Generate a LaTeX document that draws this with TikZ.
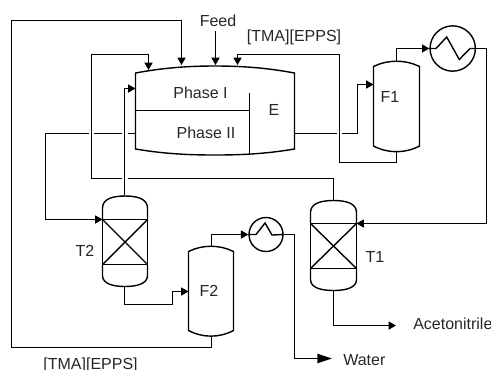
\documentclass[tikz,border=0pt]{standalone}
\usepackage{fontspec}
\setmainfont{Liberation Sans}
\usetikzlibrary{arrows.meta}
\tikzset{
  pipe/.style={line width=1.05pt,line join=miter},
  flow/.style={pipe,-{Triangle[length=5.5pt,width=6pt]}},
  bigflow/.style={pipe,-{Triangle[length=11pt,width=7pt]}},
  vessel/.style={line width=1.05pt},
  lbl/.style={font=\fontsize{12pt}{14pt}\selectfont,inner sep=0pt,text=black!85},
}
\begin{document}
\begin{tikzpicture}[x=0.75pt,y=-0.75pt]
\useasboundingbox (0,0) rectangle (491,369);
\clip (0,0) rectangle (491,369);
% Extractor
\draw[vessel] (135.5,73) .. controls (165,67.5) and (190,66) .. (215,66) .. controls (240,66) and (265,67.5) .. (294.5,73)
  -- (294.5,149) .. controls (265,154) and (240,155) .. (215,155) .. controls (190,155) and (165,154) .. (135.5,149) -- cycle;
\draw[vessel] (135.5,110.5) -- (249.5,110.5);
\draw[vessel] (249.5,93) -- (249.5,154.5);
% Flash drums
\newcommand{\flashdrum}[4]{% left right topmid bottommid
  \draw[vessel] (#1,#3+5.5) .. controls (#1+14,#3-1.5) and (#2-14,#3-1.5) .. (#2,#3+5.5)
   -- (#2,#4-6) .. controls (#2-14,#4+1.5) and (#1+14,#4+1.5) .. (#1,#4-6) -- cycle;}
\flashdrum{373.5}{419.5}{61}{152}
\flashdrum{188.5}{233.5}{246}{336.5}
% Columns
\newcommand{\packedcol}[5]{% left right top line1 line2 (bottom = line2+22)
  \draw[vessel] (#1,#4) -- (#1,#3+12) .. controls (#1,#3+3) and (#1+10,#3) .. ({(#1+#2)/2},#3)
     .. controls (#2-10,#3) and (#2,#3+3) .. (#2,#3+12) -- (#2,#4);
  \draw[vessel] (#1,#5) -- (#1,#5+11) .. controls (#1,#5+19) and (#1+10,#5+22) .. ({(#1+#2)/2},#5+22)
     .. controls (#2-10,#5+22) and (#2,#5+19) .. (#2,#5+11) -- (#2,#5);
  \draw[vessel] (#1,#4) rectangle (#2,#5);
  \draw[vessel] (#1,#4) -- (#2,#5) (#1,#5) -- (#2,#4);}
\packedcol{102.5}{147.5}{196}{219.5}{264.5}
\packedcol{310.5}{356.5}{200.5}{223.5}{268.5}
% Exchangers
\node[circle,draw,line width=1.05pt,minimum size=34pt,inner sep=0pt] (HA) at (452.7,48.5) {};
\node[circle,draw,line width=1.05pt,minimum size=25.5pt,inner sep=0pt] (HB) at (266,234.5) {};
\draw[pipe] (HA.west) -- (436,48.5) -- (446.7,37) -- (459.3,59.5) -- (470,48.5) -- (HA.east);
\draw[pipe] (HB.west) -- (256,234.5) -- (265,223) -- (272,235) -- (HB.east);
% Ports
\coordinate (Ein) at (181.5,65);
\coordinate (Efeed) at (215.5,65);
\coordinate (Esolv) at (237.5,65);
\coordinate (Erec) at (148.5,70);
\coordinate (Et2) at (135.5,88.5);
\coordinate (Eout) at (294.5,133.5);
\coordinate (Eraf) at (135.5,133.5);
\coordinate (Fa) at (373.5,84.5);
\coordinate (Fat) at (396.5,61);
\coordinate (Fab) at (396.5,152);
\coordinate (Fb) at (188.5,291.5);
\coordinate (Fbt) at (211.5,246);
\coordinate (Fbb) at (211.5,336.5);
\coordinate (Tat) at (333.5,200.5);
\coordinate (Tab) at (333.5,291);
\coordinate (Tain) at (356.5,223.5);
\coordinate (Tbt) at (124.5,196);
\coordinate (Tbb) at (124.5,286);
\coordinate (Tbin) at (102.5,219.5);
\coordinate (Feedtop) at (215.5,31);
\coordinate (Aend) at (396,325.5);
\coordinate (Wend) at (332,358.5);
% Connectors
\draw[flow] (Fbb) |- (11.5,347.5) |- (181.5,20.5) -- (Ein);
\draw[flow] (Feedtop) -- (Efeed);
\draw[flow] (Fab) |- (339.5,162.5) |- (237.5,54.5) -- (Esolv);
\draw[pipe] (Tat) |- (127.5,178.5);
\draw[flow] (122,178.5) -| (91.5,54.5) -| (Erec);
\draw[flow] (Tbt) |- (Et2);
\draw[pipe] (Eout) -- (337,133.5);
\draw[flow] (342,133.5) -| (357.5,84.5) -- (Fa);
\draw[pipe] (Eraf) -- (127.5,133.5);
\draw[pipe] (122,133.5) -- (93.5,133.5);
\draw[flow] (88.5,133.5) -| (45.5,219.5) -- (Tbin);
\draw[flow] (Fat) |- (HA.west);
\draw[flow] (HA.east) -| (486.5,223.5) -- (Tain);
\draw[flow] (Tbb) |- (172.5,304.5) |- (Fb);
\draw[flow] (Fbt) |- (HB.west);
\draw[bigflow] (HB.east) -| (294.5,358.5) -- (Wend);
\draw[flow] (Tab) |- (Aend);
% Labels
\node[lbl] (feed) at (218,20.5) {Feed};
\node[lbl] (s1) at (294,37) {[TMA][EPPS]};
\node[lbl] (s2) at (90.5,365) {[TMA][EPPS]};
\node[lbl] (p1) at (200.5,92.5) {Phase I};
\node[lbl] (p2) at (206,132.5) {Phase II};
\node[lbl] (e) at (274,110) {E};
\node[lbl] (f1) at (390,96.5) {F1};
\node[lbl] (f2) at (209,290.5) {F2};
\node[lbl] (t1) at (375,256.5) {T1};
\node[lbl] (t2) at (85,251) {T2};
\node[lbl,anchor=west] (ac) at (413,324) {Acetonitrile};
\node[lbl,anchor=west] (wa) at (343,360) {Water};
\end{tikzpicture}
\end{document}
